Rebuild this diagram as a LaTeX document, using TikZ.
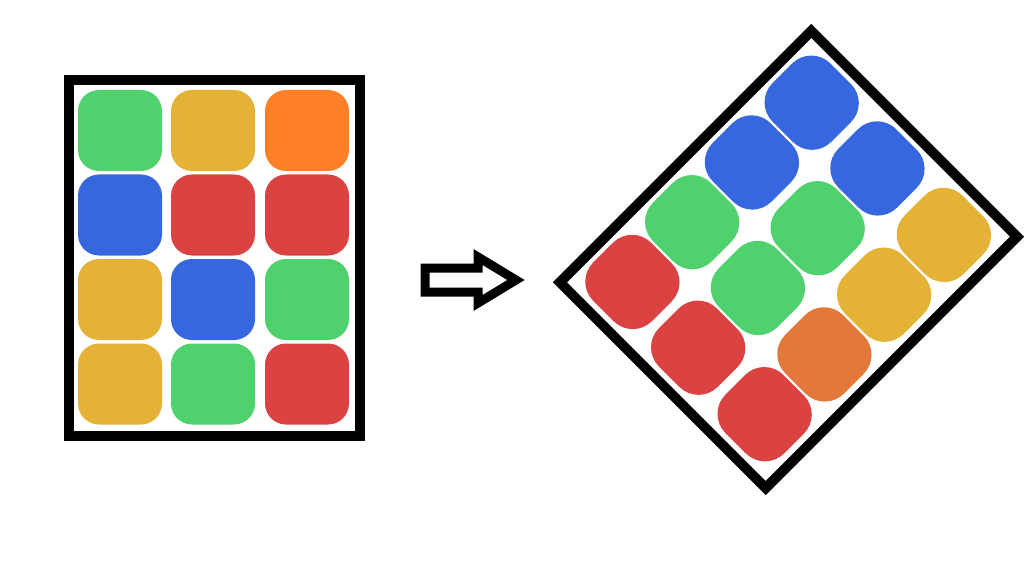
\documentclass[tikz,border=0pt]{standalone}
\definecolor{tgreen}{HTML}{4FD16E}
\definecolor{tyellow}{HTML}{E5B238}
\definecolor{torange}{HTML}{FF8026}
\definecolor{torangeB}{HTML}{E2783A}
\definecolor{tblue}{HTML}{3667DE}
\definecolor{tred}{HTML}{DB4343}
\begin{document}
\begin{tikzpicture}[x=1pt,y=-1pt,
  frame/.style={draw=black,line width=10pt,line join=miter,miter limit=10},
  tileL/.style={rectangle,rounded corners=21pt,minimum width=84pt,minimum height=81pt,inner sep=0pt,outer sep=0pt,draw=none},
  tileR/.style={rectangle,rounded corners=27pt,minimum width=83pt,minimum height=82pt,inner sep=0pt,outer sep=0pt,draw=none},
  arrowshape/.style={draw=black,fill=white,line width=9pt,line join=miter,miter limit=10}]
\useasboundingbox[fill=white] (0,0) rectangle (1035,564);
% left grid
\begin{scope}[shift={(214.5,257.75)}]
  \draw[frame] (-145.5,-177.75) rectangle (145.5,177.75);
  \foreach \x/\y/\col/\nm in {
    -94.5/-127.25/tgreen/L11, -1.5/-127.25/tyellow/L12, 92.5/-127.25/torange/L13,
    -94.5/-42.75/tblue/L21, -1.5/-42.75/tred/L22, 92.5/-42.75/tred/L23,
    -94.5/41.75/tyellow/L31, -1.5/41.75/tblue/L32, 92.5/41.75/tgreen/L33,
    -94.5/126.25/tyellow/L41, -1.5/126.25/tgreen/L42, 92.5/126.25/tred/L43}{
    \node[tileL,fill=\col] (\nm) at (\x,\y) {};
  }
\end{scope}
% arrow
\draw[arrowshape] (425,268) -- (478,268) -- (478,257) -- (516,280) -- (478,303) -- (478,292) -- (425,292) -- cycle;
% right grid (rotated)
\begin{scope}[shift={(788.5,259.5)},rotate=-45,transform shape]
  \draw[frame] (-145.5,-177.75) rectangle (145.5,177.75);
  \foreach \x/\y/\col/\nm in {
    -94.5/-127.25/tblue/R11, -1.5/-127.25/tblue/R12, 92.5/-127.25/tyellow/R13,
    -94.5/-42.75/tblue/R21, -1.5/-42.75/tgreen/R22, 92.5/-42.75/tyellow/R23,
    -94.5/41.75/tgreen/R31, -1.5/41.75/tgreen/R32, 92.5/41.75/torangeB/R33,
    -94.5/126.25/tred/R41, -1.5/126.25/tred/R42, 92.5/126.25/tred/R43}{
    \node[tileR,fill=\col] (\nm) at (\x,\y) {};
  }
\end{scope}
\end{tikzpicture}
\end{document}
